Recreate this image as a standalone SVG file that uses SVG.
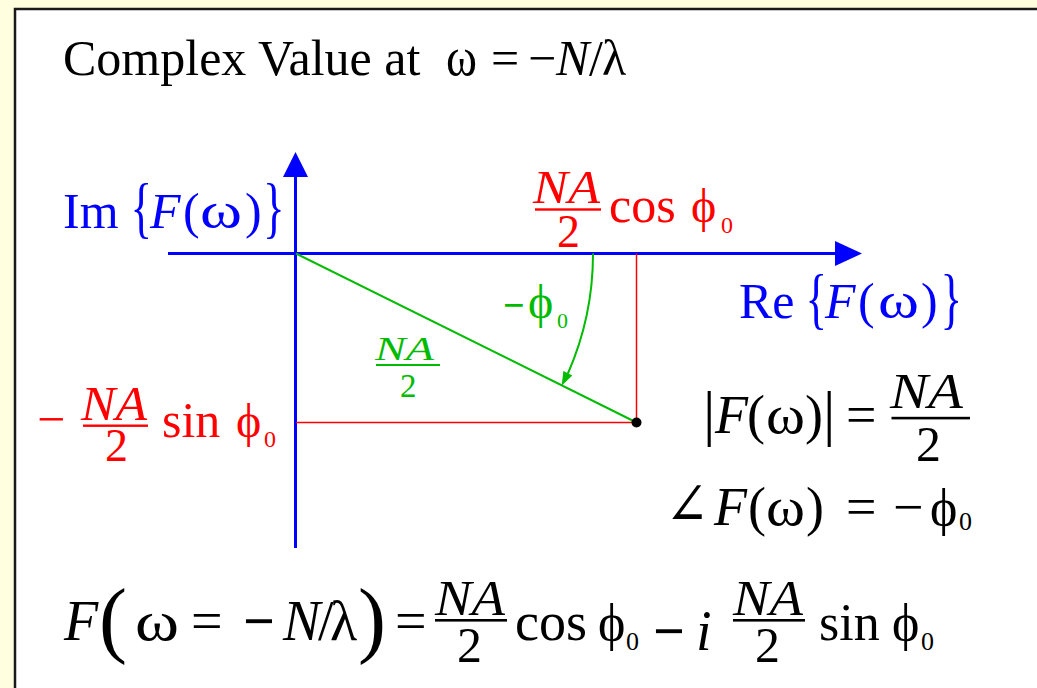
<svg xmlns="http://www.w3.org/2000/svg" width="1037" height="688" viewBox="0 0 1037 688">
<style>
text{font-family:"Liberation Serif","DejaVu Serif",serif;}
.it{font-style:italic;}
.blue{fill:#0000FF;}
.red{fill:#FF0000;}
.green{fill:#00BB00;}
.black{fill:#000000;}
.ax{stroke:#0000FF;stroke-width:3;fill:none;}
.rl{stroke:#FF0000;stroke-width:1.5;fill:none;}
.gl{stroke:#00BB00;stroke-width:2;fill:none;}
</style>
<rect x="0" y="0" width="1037" height="688" fill="#FFFFE0"/>
<rect x="15" y="9" width="1040" height="700" fill="#FFFFFF" stroke="#1a1a1a" stroke-width="2.5"/>

<g id="title">
<text x="63" y="75" font-size="50" class="black">Complex Value at <tspan x="446" font-size="54" textLength="31" lengthAdjust="spacingAndGlyphs">ω</tspan><tspan x="491">=</tspan><tspan x="528">−</tspan><tspan x="556" class="it">N</tspan><tspan x="589">/</tspan><tspan x="602">λ</tspan></text>
</g>

<g id="connectors">
<line class="ax" x1="295.5" y1="548" x2="295.5" y2="174"/>
<polygon points="295.5,152 283,177 308,177" fill="#0000FF"/>
<line class="ax" x1="168" y1="253.5" x2="838" y2="253.5"/>
<polygon points="862,253.5 835,241 835,266" fill="#0000FF"/>
<line class="rl" x1="636.5" y1="253.5" x2="636.5" y2="422.5"/>
<line class="rl" x1="296" y1="422.5" x2="636.5" y2="422.5"/>
<line class="gl" x1="296" y1="253.5" x2="636.5" y2="422.5"/>
<path class="gl" d="M 593 253.5 A 297 297 0 0 1 567.9 373.5"/>
<polygon points="561.6,385.8 572.3,375.5 563.4,371.1" fill="#00BB00"/>
</g>

<g id="point">
<circle cx="636.5" cy="422.5" r="5" fill="#000000"/>
</g>

<g id="im-label" class="blue">
<text x="63" y="228" font-size="50">Im</text>
<text transform="translate(130.5,230) scale(0.9,1.35)" font-size="50">{</text>
<text x="150" y="228" font-size="50"><tspan class="it">F</tspan><tspan x="183">(</tspan><tspan x="200" textLength="42" lengthAdjust="spacingAndGlyphs">ω</tspan><tspan x="245">)</tspan></text>
<text transform="translate(263,230) scale(0.9,1.35)" font-size="50">}</text>
</g>

<g id="re-label" class="blue">
<text x="739" y="318" font-size="50">Re</text>
<text transform="translate(805.5,321) scale(0.9,1.35)" font-size="50">{</text>
<text x="825" y="318" font-size="50"><tspan class="it">F</tspan><tspan x="858">(</tspan><tspan x="878" textLength="41" lengthAdjust="spacingAndGlyphs">ω</tspan><tspan x="921">)</tspan></text>
<text transform="translate(940.5,321) scale(0.9,1.35)" font-size="50">}</text>
</g>

<g id="cos-label" class="red">
<text x="533" y="203" font-size="46" class="it" textLength="67" lengthAdjust="spacingAndGlyphs">NA</text>
<rect x="535" y="208.3" width="66" height="2.4"/>
<text x="557" y="247" font-size="46">2</text>
<text x="609" y="222" font-size="50">cos <tspan x="691" font-size="48">ϕ</tspan><tspan x="721" y="233" font-size="24">0</tspan></text>
</g>

<g id="angle-label" class="green">
<text x="503" y="318" font-size="38" font-weight="bold">−<tspan x="528" font-size="48" font-weight="normal">ϕ</tspan><tspan x="557" y="328" font-size="22" font-weight="normal">0</tspan></text>
</g>

<g id="mag-label" class="green">
<text x="375" y="360" font-size="33" class="it" textLength="59" lengthAdjust="spacingAndGlyphs">NA</text>
<rect x="376" y="364" width="64" height="2"/>
<text x="400" y="397" font-size="33">2</text>
</g>

<g id="sin-label" class="red">
<text x="37" y="436" font-size="50">−</text>
<text x="81" y="420" font-size="48" class="it" textLength="66" lengthAdjust="spacingAndGlyphs">NA</text>
<rect x="83" y="424.5" width="65" height="2.4"/>
<text x="105" y="461" font-size="46">2</text>
<text x="162" y="437" font-size="50">sin <tspan x="236" font-size="48">ϕ</tspan><tspan x="264" y="447" font-size="24">0</tspan></text>
</g>

<g id="magnitude-eq" class="black">
<text x="703" y="434" font-size="62">|<tspan x="715" y="433" font-size="54" class="it">F</tspan><tspan x="747" y="433" font-size="54">(</tspan><tspan x="766" y="433" font-size="54" textLength="39" lengthAdjust="spacingAndGlyphs">ω</tspan><tspan x="805" y="433" font-size="54">)</tspan><tspan x="823" y="434">|</tspan><tspan x="846" y="433" font-size="54">=</tspan></text>
<text x="890" y="408" font-size="50" class="it" textLength="73" lengthAdjust="spacingAndGlyphs">NA</text>
<rect x="891.5" y="416.8" width="78.5" height="2.6"/>
<text x="916" y="461" font-size="50">2</text>
</g>

<g id="phase-eq" class="black">
<text x="665" y="525" font-size="54"><tspan font-size="60" textLength="44" lengthAdjust="spacingAndGlyphs">∠</tspan><tspan x="714" class="it">F</tspan><tspan x="748">(</tspan><tspan x="766" textLength="39" lengthAdjust="spacingAndGlyphs">ω</tspan><tspan x="806">)</tspan><tspan x="846">=</tspan><tspan x="893">−</tspan><tspan x="930" font-size="52">ϕ</tspan><tspan x="959" y="530" font-size="26">0</tspan></text>
</g>

<g id="main-eq" class="black">
<text x="64" y="640" font-size="56" class="it">F</text>
<text transform="translate(99,647) scale(1.5,1.5)" font-size="56">(</text>
<text x="135" y="640" font-size="56"><tspan textLength="44" lengthAdjust="spacingAndGlyphs">ω</tspan><tspan x="191">=</tspan><tspan x="243" font-weight="bold">−</tspan><tspan x="283" class="it">N</tspan><tspan x="318">/</tspan><tspan x="330">λ</tspan></text>
<text transform="translate(358,647) scale(1.5,1.5)" font-size="56">)</text>
<text x="395" y="640" font-size="56">=</text>
<text x="435" y="615" font-size="50" class="it" textLength="70" lengthAdjust="spacingAndGlyphs">NA</text>
<rect x="435" y="619" width="72" height="2.6"/>
<text x="457" y="662" font-size="50">2</text>
<text x="515" y="640" font-size="54">cos <tspan x="598" font-size="52">ϕ</tspan><tspan x="626" y="650" font-size="26">0</tspan><tspan x="653" font-size="56" font-weight="bold">−</tspan><tspan x="696" font-size="56" class="it">i</tspan></text>
<text x="733" y="615" font-size="50" class="it" textLength="70" lengthAdjust="spacingAndGlyphs">NA</text>
<rect x="733" y="619" width="72" height="2.6"/>
<text x="755" y="662" font-size="50">2</text>
<text x="819" y="640" font-size="52">sin <tspan x="892" font-size="52">ϕ</tspan><tspan x="921" y="650" font-size="26">0</tspan></text>
</g>
</svg>
